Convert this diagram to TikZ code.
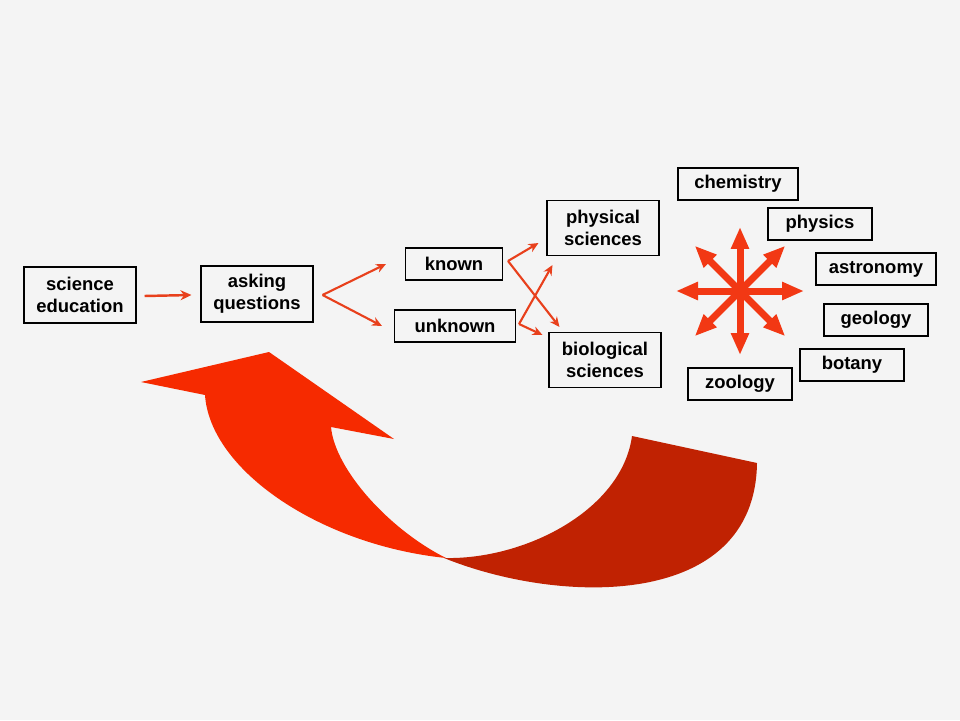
\documentclass[tikz,border=0pt]{standalone}
\usepackage{fontspec}
\setmainfont{Liberation Sans}
\usepackage{tikz}
\usetikzlibrary{arrows.meta, positioning, calc}
\definecolor{mybg}{RGB}{244,244,244}
\definecolor{myline}{RGB}{232,64,28}
\definecolor{mystar}{RGB}{242,56,20}
\definecolor{mybright}{RGB}{246,42,0}
\definecolor{mydeep}{RGB}{192,34,2}
\tikzset{
  box/.style={rectangle, draw=black, line width=0.6pt, align=center,
    inner sep=0pt, font=\fontsize{10.5}{12.5}\selectfont\bfseries},
  redarrow/.style={-{Stealth[length=0.22cm, width=0.2cm]}, line width=1.4pt, color=myline},
  forkline/.style={line width=1.2pt, color=myline},
  forkarrow/.style={-{Stealth[length=0.2cm, width=0.18cm]}, line width=1.2pt, color=myline},
  stararrow/.style={-{Triangle[length=0.44cm, width=0.34cm]}, line width=0.14cm, color=mystar}
}
\begin{document}
\begin{tikzpicture}[x=0.02cm, y=-0.02cm]
  % ── Background and frame ───────────────────────────────────────────────────
  \fill[mybg] (0,0) rectangle (960,720);

  % ── Main chain of boxes ────────────────────────────────────────────────────
  \node[box, minimum width=2.24cm, minimum height=1.12cm] (sci) at (80,295) {science\\education};
  \node[box, minimum width=2.24cm, minimum height=1.12cm] (asking) at (257,294) {asking\\questions};
  \node[box, minimum width=1.94cm, minimum height=0.64cm] (known) at (454,264) {known};
  \node[box, minimum width=2.42cm, minimum height=0.64cm] (unknown) at (455,326) {unknown};
  \node[box, minimum width=2.24cm, minimum height=1.1cm] (physical) at (603,228) {physical\\sciences};
  \node[box, minimum width=2.24cm, minimum height=1.1cm] (biological) at (605,360) {biological\\sciences};

  % ── Branches around the star ──────────────────────────────────────────────
  \node[box, minimum width=2.4cm, minimum height=0.64cm] (chemistry) at (738,184) {chemistry};
  \node[box, minimum width=2.08cm, minimum height=0.64cm] (physics) at (820,224) {physics};
  \node[box, minimum width=2.4cm, minimum height=0.64cm] (astronomy) at (876,269) {astronomy};
  \node[box, minimum width=2.08cm, minimum height=0.64cm] (geology) at (876,320) {geology};
  \node[box, minimum width=2.08cm, minimum height=0.64cm] (botany) at (852,365) {botany};
  \node[box, minimum width=2.08cm, minimum height=0.64cm] (zoology) at (740,384) {zoology};

  % ── Connectors ────────────────────────────────────────────────────────────
  \draw[redarrow] ($(sci.east)+(8,1)$) -- ($(asking.west)+(-9,1)$);

  \coordinate (fork1) at ($(asking.east)+(9,1)$);
  \draw[forkarrow] (fork1) -- ($(known.west)+(-19,0)$);
  \draw[forkarrow] (fork1) -- ($(unknown.west)+(-12,0)$);

  \coordinate (fork2) at ($(known.east)+(5,-3)$);
  \draw[forkarrow] (fork2) -- ($(physical.west)+(-8,15)$);
  \draw[forkarrow] (fork2) -- ($(biological.north west)+(11,-5)$);

  \coordinate (fork3) at ($(unknown.east)+(3,-2)$);
  \draw[forkarrow] (fork3) -- ($(physical.south west)+(6,9)$);
  \draw[forkarrow] (fork3) -- ($(biological.west)+(-6,-25)$);

  % ── Star of eight arrows ──────────────────────────────────────────────────
  \coordinate (star) at (740,291);
  \foreach \a in {0,45,...,315} {
    \draw[stararrow] (star) -- ++(\a:64);
  }

  % ── Big curved return arrow ───────────────────────────────────────────────
  \fill[mybright] (141,382) -- (269,352) -- (394,439) -- (331,427)
    .. controls (335,470) and (390,530) .. (446,558)
    .. controls (320,545) and (210,470) .. (205,395) -- cycle;
  \fill[mydeep] (444,558) .. controls (560,605) and (755,610) .. (757,463)
    -- (632,436) .. controls (622,510) and (525,560) .. (444,558) -- cycle;
\end{tikzpicture}
\end{document}
